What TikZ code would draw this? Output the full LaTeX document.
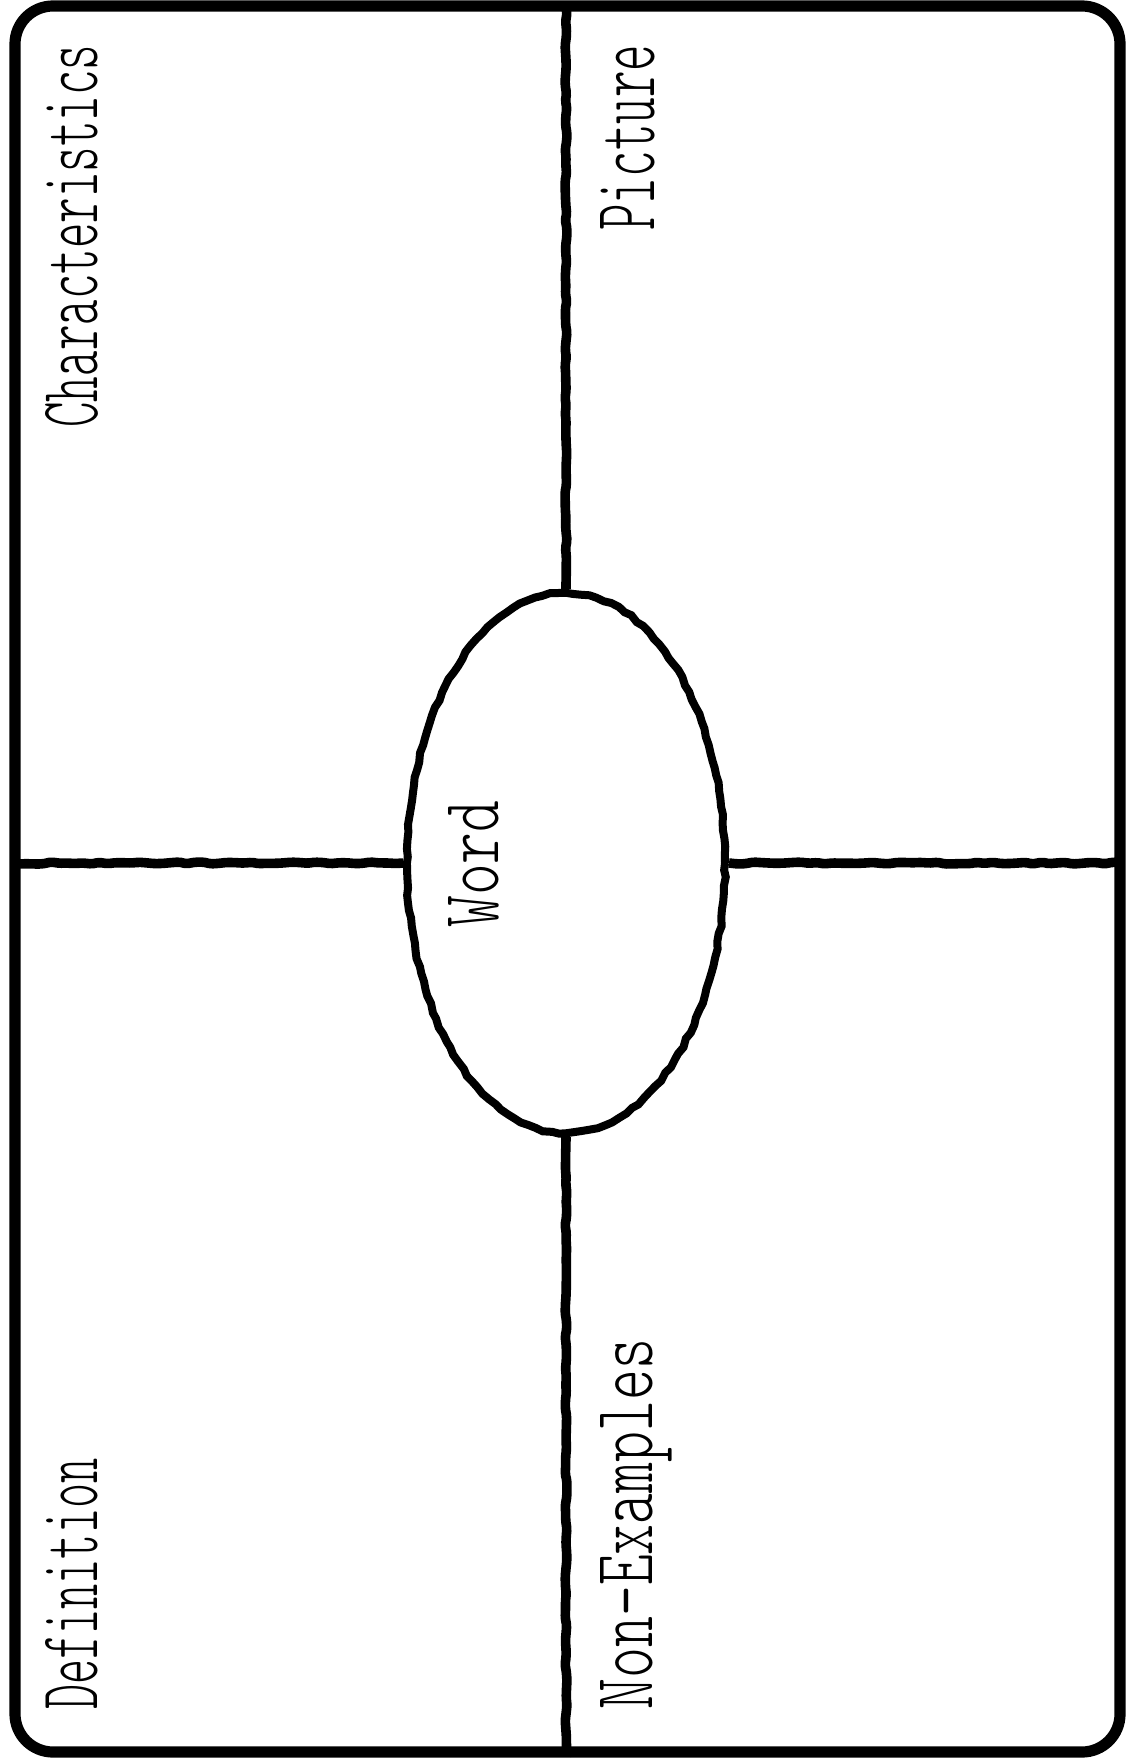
\documentclass[tikz,border=0pt]{standalone}
\usepackage{graphicx}
\usetikzlibrary{shapes.geometric,decorations.pathmorphing}
\begin{document}
\begin{tikzpicture}[x=0.5pt,y=-0.5pt,
  rough/.style={decorate, decoration={random steps, segment length=4pt, amplitude=0.5pt}},
  sep/.style={line width=4.8pt, line cap=butt, rough, rounded corners=1pt, shorten >=1.5pt},
  framebox/.style={draw, rectangle, line width=5.6pt, rounded corners=19pt, inner sep=0pt},
  wordbox/.style={draw, ellipse, line width=4pt, inner sep=0pt, rough},
  lbl/.style={rotate=90, anchor=base west, inner sep=0pt, font=\fontseries{l}\ttfamily}]
\pgfmathsetseed{7}
\useasboundingbox (0,0) rectangle (1126,1764);
\node[framebox, minimum width=552.5pt, minimum height=873pt] (frame) at (567.5,879) {};
\node[wordbox, minimum width=159pt, minimum height=270pt] (word) at (566,863) {};
\draw[sep] (word.north) -- (word.north |- frame.north);
\draw[sep] (word.south) -- (word.south |- frame.south);
\draw[sep] (word.west) -- (word.west -| frame.west);
\draw[sep] (word.east) -- (word.east -| frame.east);
\node[lbl] (char) at (97,428) {\resizebox{191.5pt}{26pt}{Characteristics}};
\node[lbl] (pic) at (654,231) {\resizebox{93pt}{27pt}{Picture}};
\node[lbl] (def) at (97,1710) {\resizebox{125.5pt}{26pt}{Definition}};
\node[lbl] (non) at (652,1710) {\resizebox{185.5pt}{26pt}{Non-Examples}};
\node[lbl] (wd) at (498,928) {\resizebox{63.5pt}{25pt}{Word}};
\end{tikzpicture}
\end{document}
